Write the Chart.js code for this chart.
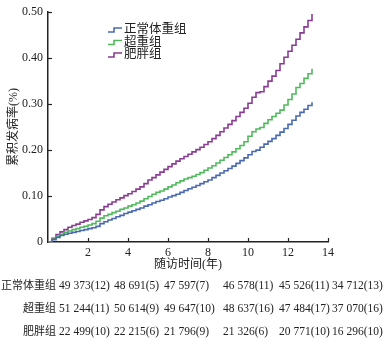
<!DOCTYPE html>
<html>
<head>
<meta charset="utf-8">
<script src="https://cdn.jsdelivr.net/npm/chart.js@4.4.1/dist/chart.umd.min.js"></script>
<style>
html,body{margin:0;padding:0;background:#fff;}
canvas{display:block;}
</style>
</head>
<body>
<canvas id="c" width="386" height="341"></canvas>
<script>
// ---- data ----
const timeYears = [0,0.2,0.4,0.6,0.8,1.0,1.2,1.4,1.6,1.8,2.0,2.2,2.4,2.6,2.8,3.0,3.2,3.4,3.6,3.8,4.0,4.2,4.4,4.6,4.8,5.0,5.2,5.4,5.6,5.8,6.0,6.2,6.4,6.6,6.8,7.0,7.2,7.4,7.6,7.8,8.0,8.2,8.4,8.6,8.8,9.0,9.2,9.4,9.6,9.8,10.0,10.2,10.4,10.6,10.8,11.0,11.2,11.4,11.6,11.8,12.0,12.2,12.4,12.6,12.8,13.0,13.2];
const normalRisk = [0,0.005,0.010,0.014,0.017,0.019,0.021,0.023,0.025,0.027,0.029,0.031,0.034,0.040,0.044,0.048,0.051,0.055,0.058,0.062,0.065,0.068,0.071,0.074,0.078,0.081,0.085,0.088,0.091,0.094,0.098,0.101,0.104,0.108,0.112,0.116,0.119,0.123,0.127,0.131,0.135,0.140,0.145,0.150,0.155,0.160,0.165,0.171,0.177,0.183,0.190,0.197,0.200,0.206,0.213,0.219,0.225,0.232,0.239,0.247,0.256,0.265,0.274,0.282,0.289,0.297,0.304];
const overweightRisk = [0,0.006,0.012,0.017,0.021,0.024,0.027,0.029,0.032,0.034,0.037,0.040,0.045,0.052,0.057,0.060,0.064,0.067,0.071,0.074,0.078,0.081,0.085,0.089,0.094,0.099,0.104,0.108,0.111,0.115,0.120,0.124,0.129,0.133,0.137,0.140,0.143,0.147,0.151,0.156,0.161,0.166,0.172,0.178,0.184,0.190,0.196,0.203,0.210,0.218,0.230,0.240,0.246,0.249,0.258,0.266,0.273,0.280,0.287,0.298,0.310,0.322,0.336,0.345,0.356,0.366,0.377];
const obeseRisk = [0,0.008,0.016,0.022,0.027,0.032,0.036,0.039,0.043,0.046,0.049,0.053,0.060,0.070,0.077,0.082,0.087,0.092,0.096,0.101,0.105,0.110,0.115,0.120,0.127,0.135,0.140,0.146,0.152,0.158,0.164,0.170,0.176,0.181,0.186,0.191,0.196,0.201,0.206,0.212,0.218,0.225,0.232,0.240,0.248,0.256,0.264,0.273,0.282,0.291,0.302,0.315,0.325,0.327,0.338,0.350,0.361,0.373,0.388,0.402,0.415,0.428,0.441,0.455,0.468,0.482,0.496];
const groupNames = ['正常体重组','超重组','肥胖组'];
const xTicks = [0,2,4,6,8,10,12,14];
const yTicks = [0,0.10,0.20,0.30,0.40,0.50];
const atRiskNormal = ['49 373(12)','48 691(5)','47 597(7)','46 578(11)','45 526(11)','34 712(13)'];
const atRiskOverweight = ['51 244(11)','50 614(9)','49 647(10)','48 637(16)','47 484(17)','37 070(16)'];
const atRiskObese = ['22 499(10)','22 215(6)','21 796(9)','21 326(6)','20 771(10)','16 296(10)'];
const xTitle = '随访时间(年)';
const yTitle = '累积发病率(%)';

const colors = ['#4a68b4','#4fba5c','#8a3b94'];
const SERIF = '"Liberation Serif","Noto Sans CJK SC",serif';
const TXT = '#222';

function pts(arr){ return timeYears.map((t,i)=>({x:t,y:arr[i]})); }

const extras = {
  id:'extras',
  afterDraw(chart){
    const ctx = chart.ctx, xs = chart.scales.x, ys = chart.scales.y, a = chart.chartArea;
    ctx.save();
    // inward tick marks
    ctx.strokeStyle = '#222'; ctx.lineWidth = 1.2;
    xTicks.forEach(v=>{ if(v===0) return; const px = Math.round(xs.getPixelForValue(v))+0.5;
      ctx.beginPath(); ctx.moveTo(px,a.bottom); ctx.lineTo(px,a.bottom-4); ctx.stroke(); });
    yTicks.forEach(v=>{ if(v===0) return; const py = Math.round(ys.getPixelForValue(v))+0.5;
      ctx.beginPath(); ctx.moveTo(a.left,py); ctx.lineTo(a.left+4,py); ctx.stroke(); });
    // legend
    const lx = 108, ly0 = 30, lstep = 12.5;
    chart.data.datasets.forEach((ds,i)=>{
      const y = ly0 + i*lstep;
      ctx.strokeStyle = ds.borderColor; ctx.lineWidth = 1.6;
      ctx.beginPath(); ctx.moveTo(lx, y+2); ctx.lineTo(lx+6, y+2); ctx.lineTo(lx+6, y-2); ctx.lineTo(lx+14, y-2); ctx.stroke();
      ctx.fillStyle = TXT; ctx.font = '12.5px '+SERIF; ctx.textAlign='left'; ctx.textBaseline='middle';
      ctx.fillText(ds.label, lx+16, y);
    });
    // x-axis title
    ctx.fillStyle = TXT; ctx.font = '12px '+SERIF; ctx.textAlign='center'; ctx.textBaseline='middle';
    ctx.fillText(xTitle, (a.left+a.right)/2, 265);
    // number-at-risk table
    const rows = [atRiskNormal, atRiskOverweight, atRiskObese];
    const rowY = [286, 309, 332];
    const colX = [59, 114, 164, 223, 279, 332];
    rows.forEach((r,ri)=>{
      ctx.font = '11px '+SERIF; ctx.textAlign='right'; ctx.textBaseline='middle';
      ctx.fillText(groupNames[ri], 56, rowY[ri]);
      ctx.font = '11.5px '+SERIF; ctx.textAlign='left';
      r.forEach((s,ci)=> ctx.fillText(s, colX[ci], rowY[ri]));
    });
    ctx.restore();
  }
};

new Chart(document.getElementById('c'), {
  type:'line',
  data:{
    datasets:[
      {label:groupNames[0], data:pts(normalRisk), borderColor:colors[0]},
      {label:groupNames[1], data:pts(overweightRisk), borderColor:colors[1]},
      {label:groupNames[2], data:pts(obeseRisk), borderColor:colors[2]}
    ].map(d=>Object.assign(d,{stepped:true, borderWidth:1.6, pointRadius:0, fill:false}))
  },
  options:{
    responsive:false, animation:false,
    layout:{padding:{top:7, right:58, bottom:0, left:0}},
    plugins:{legend:{display:false}, tooltip:{enabled:false}},
    scales:{
      x:{type:'linear', min:0, max:14,
        afterBuildTicks(s){ s.ticks = xTicks.map(v=>({value:v})); },
        afterFit(s){ s.height = 99; },
        grid:{display:false, drawTicks:false},
        border:{display:true, color:'#222', width:1.5},
        ticks:{padding:4, color:TXT, font:{family:SERIF, size:12}, maxRotation:0,
          callback:(v)=> v===0 ? '' : String(v)}
      },
      y:{min:0, max:0.5,
        afterBuildTicks(s){ s.ticks = yTicks.map(v=>({value:v})); },
        afterFit(s){ s.width = 48; },
        grid:{display:false, drawTicks:false},
        border:{display:true, color:'#222', width:1.5},
        ticks:{padding:5, color:TXT, font:{family:SERIF, size:12},
          callback:(v)=> v===0 ? '0' : v.toFixed(2)},
        title:{display:true, text:yTitle, color:TXT, font:{family:SERIF, size:12}, padding:{top:7,bottom:0}}
      }
    }
  },
  plugins:[extras]
});
</script>
</body>
</html>
